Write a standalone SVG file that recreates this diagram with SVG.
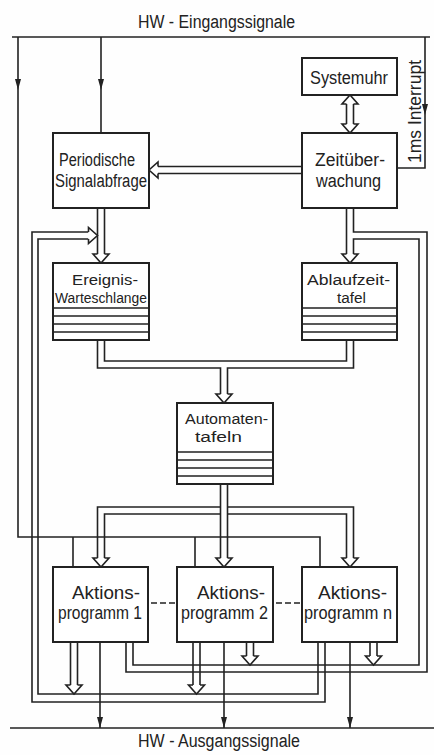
<svg xmlns="http://www.w3.org/2000/svg" xmlns:xlink="http://www.w3.org/1999/xlink" width="434" height="755" viewBox="0 0 434 755">
<style>
.ln{fill:none;stroke:#222;stroke-width:1.6}
.box{fill:#fff;stroke:#222;stroke-width:2}
.sep{stroke:#222;stroke-width:1.4}
.ah{fill:#fff;stroke:#222;stroke-width:1.6;stroke-linejoin:miter}
.fa{fill:#222}
.t{font-family:"Liberation Sans",Arial,sans-serif;font-size:18px;fill:#222}
.s{font-size:15.5px}
.dash{stroke:#222;stroke-width:1.6;stroke-dasharray:6 3}
</style>
<defs>
<path id="hd" class="ah" d="M-3.5,-9 L-8,-9 L0,0 L8,-9 L3.5,-9"/>
<path id="fd" class="fa" d="M-3,-11 L3,-11 L0,0 Z"/>
</defs>
<rect width="434" height="755" fill="#fefefe"/>

<g id="titles">
<text class="t" x="138" y="28" textLength="157" lengthAdjust="spacingAndGlyphs">HW - Eingangssignale</text>
<text class="t" x="138" y="747" textLength="162" lengthAdjust="spacingAndGlyphs">HW - Ausgangssignale</text>
<text class="t" transform="translate(421,163) rotate(-90)" x="0" y="0" textLength="103" lengthAdjust="spacingAndGlyphs">1ms Interrupt</text>
</g>

<g id="connectors">
<line class="ln" x1="12" y1="37" x2="430" y2="37"/>
<line class="ln" x1="10" y1="728" x2="434" y2="728"/>
<path class="ln" d="M18,37 V537 H320 V567 M73,537 V567 M195,537 V567"/>
<use xlink:href="#fd" x="18" y="90"/>
<path class="ln" d="M101,37 V133"/>
<use xlink:href="#fd" x="101" y="90"/>
<path class="ln" d="M425,37 V168 H397"/>
<use xlink:href="#fd" x="425" y="115"/>
<path class="ln" d="M100,642 V728 M224,642 V728 M350,642 V728"/>
<use xlink:href="#fd" x="100" y="728"/>
<use xlink:href="#fd" x="224" y="728"/>
<use xlink:href="#fd" x="350" y="728"/>

<path class="ln" d="M346.5,104 V124 M353.5,104 V124"/>
<use xlink:href="#hd" transform="translate(350,95) rotate(180)"/>
<use xlink:href="#hd" transform="translate(350,133)"/>
<path class="ln" d="M302,166.5 H158 M302,173.5 H158"/>
<use xlink:href="#hd" transform="translate(149,170) rotate(90)"/>
<path class="ln" d="M97.5,208 V254 M104.5,208 V254"/>
<use xlink:href="#hd" transform="translate(101,263)"/>
<path class="ln" d="M325,642 V702 H32 V232 H88.5"/>
<path class="ln" d="M318,642 V694 H38 V239 H88.5"/>
<use xlink:href="#hd" transform="translate(97.5,235.5) rotate(-90)"/>
<path class="ln" d="M70.5,642 V685 M77.5,642 V685 M193,642 V685 M200,642 V685"/>
<use xlink:href="#hd" transform="translate(74,694)"/>
<use xlink:href="#hd" transform="translate(196.5,694)"/>
<path class="ln" d="M346.5,208 V254"/>
<path class="ln" d="M126,642 V672 H427 V232 H353.5 V208"/>
<path class="ln" d="M133,642 V665 H419 V239 H353.5 V254"/>
<use xlink:href="#hd" transform="translate(350,263)"/>
<path class="ln" d="M246.5,642 V656 M253.5,642 V656 M370,642 V656 M377,642 V656"/>
<use xlink:href="#hd" transform="translate(250,665)"/>
<use xlink:href="#hd" transform="translate(373.5,665)"/>
<path class="ln" d="M97.5,340 V368 H220.5 V394"/>
<path class="ln" d="M104.5,340 V361 H346.5 V340"/>
<path class="ln" d="M353.5,340 V368 H227.5 V394"/>
<use xlink:href="#hd" transform="translate(224,403)"/>
<path class="ln" d="M220.5,484 V558 M227.5,484 V558"/>
<path class="ln" d="M220.5,507 H97.5 V558 M227.5,507 H353.5 V558"/>
<path class="ln" d="M220.5,514 H104.5 V558 M227.5,514 H346.5 V558"/>
<use xlink:href="#hd" transform="translate(101,567)"/>
<use xlink:href="#hd" transform="translate(224,567)"/>
<use xlink:href="#hd" transform="translate(350,567)"/>
<line class="dash" x1="151" y1="603" x2="175" y2="603"/>
<line class="dash" x1="276" y1="603" x2="300" y2="603"/>
</g>

<g id="systemuhr">
<rect class="box" x="302" y="58" width="95" height="37"/>
<text class="t" x="310" y="84" textLength="78" lengthAdjust="spacingAndGlyphs">Systemuhr</text>
</g>
<g id="periodische">
<rect class="box" x="53" y="133" width="96" height="75"/>
<text class="t" x="59" y="166" textLength="76" lengthAdjust="spacingAndGlyphs">Periodische</text>
<text class="t" x="55" y="187" textLength="92" lengthAdjust="spacingAndGlyphs">Signalabfrage</text>
</g>
<g id="zeitueberwachung">
<rect class="box" x="302" y="133" width="95" height="75"/>
<text class="t" x="315" y="166" textLength="70" lengthAdjust="spacingAndGlyphs">Zeitüber-</text>
<text class="t" x="316" y="187" textLength="65" lengthAdjust="spacingAndGlyphs">wachung</text>
</g>
<g id="ereignis">
<rect class="box" x="53" y="263" width="96" height="77"/>
<path class="sep" d="M53,308 H149 M53,316 H149 M53,324 H149 M53,332 H149"/>
<text class="t s" x="72" y="285" textLength="66" lengthAdjust="spacingAndGlyphs">Ereignis-</text>
<text class="t s" x="55" y="303" textLength="92" lengthAdjust="spacingAndGlyphs">Warteschlange</text>
</g>
<g id="ablaufzeittafel">
<rect class="box" x="302" y="263" width="95" height="77"/>
<path class="sep" d="M302,308 H397 M302,316 H397 M302,324 H397 M302,332 H397"/>
<text class="t s" x="307" y="285" textLength="83" lengthAdjust="spacingAndGlyphs">Ablaufzeit-</text>
<text class="t s" x="337" y="303" textLength="29" lengthAdjust="spacingAndGlyphs">tafel</text>
</g>
<g id="automatentafeln">
<rect class="box" x="177" y="403" width="96" height="81"/>
<path class="sep" d="M177,452 H273 M177,460 H273 M177,468 H273 M177,476 H273"/>
<text class="t s" x="185" y="424" textLength="83" lengthAdjust="spacingAndGlyphs">Automaten-</text>
<text class="t s" x="195" y="442" textLength="47" lengthAdjust="spacingAndGlyphs">tafeln</text>
</g>
<g id="aktion1">
<rect class="box" x="53" y="567" width="95" height="75"/>
<text class="t" x="72" y="599" textLength="68" lengthAdjust="spacingAndGlyphs">Aktions-</text>
<text class="t" x="58" y="619" textLength="84" lengthAdjust="spacingAndGlyphs">programm 1</text>
</g>
<g id="aktion2">
<rect class="box" x="177" y="567" width="96" height="75"/>
<text class="t" x="197" y="599" textLength="68" lengthAdjust="spacingAndGlyphs">Aktions-</text>
<text class="t" x="181" y="619" textLength="87" lengthAdjust="spacingAndGlyphs">programm 2</text>
</g>
<g id="aktionn">
<rect class="box" x="302" y="567" width="95" height="75"/>
<text class="t" x="318" y="599" textLength="69" lengthAdjust="spacingAndGlyphs">Aktions-</text>
<text class="t" x="304" y="619" textLength="88" lengthAdjust="spacingAndGlyphs">programm n</text>
</g>
</svg>
